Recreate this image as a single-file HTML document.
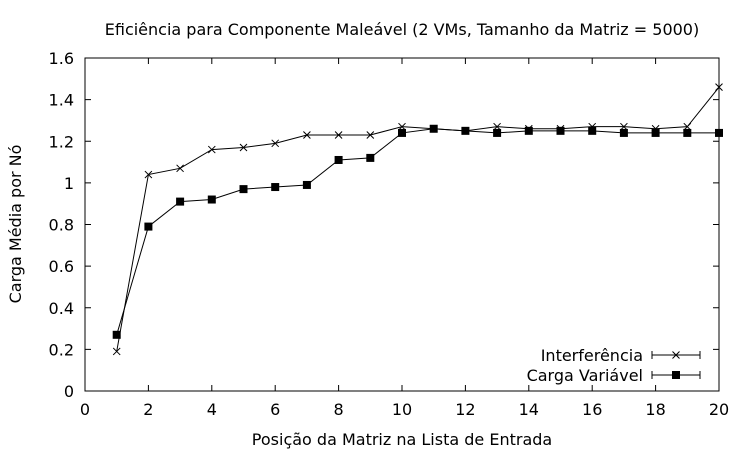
<!DOCTYPE html>
<html><head><meta charset="utf-8"><style>
body{margin:0;background:#fff}
svg{display:block;font-family:"DejaVu Sans","Liberation Sans",sans-serif}
</style></head><body>
<svg id="chart" width="750" height="452"></svg>
<script>
const xTicks=[0,2,4,6,8,10,12,14,16,18,20];
const yTicks=[0,0.2,0.4,0.6,0.8,1,1.2,1.4,1.6];
const yTickLabels=["0","0.2","0.4","0.6","0.8","1","1.2","1.4","1.6"];
const positions=[1,2,3,4,5,6,7,8,9,10,11,12,13,14,15,16,17,18,19,20];
const interferencia=[0.19,1.04,1.07,1.16,1.17,1.19,1.23,1.23,1.23,1.27,1.26,1.25,1.27,1.26,1.26,1.27,1.27,1.26,1.27,1.46];
const cargaVariavel=[0.27,0.79,0.91,0.92,0.97,0.98,0.99,1.11,1.12,1.24,1.26,1.25,1.24,1.25,1.25,1.25,1.24,1.24,1.24,1.24];

const L=85,R=719,T=58,B=391;
const sx=v=>L+(v-0)/20*(R-L);
const sy=v=>B-(v/1.6)*(B-T);
const svg=document.getElementById('chart');
const NS='http://www.w3.org/2000/svg';
function mk(tag,attrs,parent){const e=document.createElementNS(NS,tag);for(const k in attrs)e.setAttribute(k,attrs[k]);(parent||svg).appendChild(e);return e;}

const title=mk('text',{x:402,y:35,'text-anchor':'middle','font-size':16});
title.textContent='Eficiência para Componente Maleável (2 VMs, Tamanho da Matriz = 5000)';



const frame=mk('rect',{x:L,y:T,width:R-L,height:B-T,fill:'none',stroke:'#000','stroke-width':1});



xTicks.forEach(t=>{
  const x=sx(t);
  const tk=mk('path',{d:`M${x},${B}v-6M${x},${T}v6`,stroke:'#000'});
  
  
  const lb=mk('text',{x:x,y:B+24,'text-anchor':'middle','font-size':16});
  lb.textContent=String(t);
  
  
});
yTicks.forEach((t,i)=>{
  const y=sy(t);
  const tk=mk('path',{d:`M${L},${y}h6M${R},${y}h-6`,stroke:'#000'});
  
  
  const lb=mk('text',{x:L-11,y:y+6,'text-anchor':'end','font-size':16});
  lb.textContent=yTickLabels[i];
  
  
});

const xt=mk('text',{x:402,y:445,'text-anchor':'middle','font-size':16});
xt.textContent='Posição da Matriz na Lista de Entrada';


const yt=mk('text',{x:0,y:0,'text-anchor':'middle','font-size':16,transform:'translate(21,224) rotate(-90)'});
yt.textContent='Carga Média por Nó';



function cross(g,x,y){mk('path',{d:`M${x-3.5},${y-3.5}L${x+3.5},${y+3.5}M${x-3.5},${y+3.5}L${x+3.5},${y-3.5}`,stroke:'#000','stroke-width':1},g);}
function square(g,x,y){mk('rect',{x:x-4,y:y-4,width:8,height:8,fill:'#000'},g);}

function series(vals,name,marker){
  const g=mk('g',{});
  
  
  const pts=vals.map((v,i)=>[sx(positions[i]),sy(v)]);
  mk('polyline',{points:pts.map(p=>p.join(',')).join(' '),fill:'none',stroke:'#000','stroke-width':1},g);
  pts.forEach(p=>marker(g,p[0],p[1]));
}
series(interferencia,'series-interferencia',cross);
series(cargaVariavel,'series-carga-variavel',square);

function legend(y,label,marker,name){
  const g=mk('g',{});
  
  
  const t=mk('text',{x:643,y:y+6,'text-anchor':'end','font-size':16},g);
  t.textContent=label;
  mk('path',{d:`M652,${y}h48M652,${y-4}v8M700,${y-4}v8`,stroke:'#000'},g);
  marker(g,676,y);
}
legend(355,'Interferência',cross,'legend-entry-interferencia');
legend(375,'Carga Variável',square,'legend-entry-carga-variavel');
</script>
</body></html>
